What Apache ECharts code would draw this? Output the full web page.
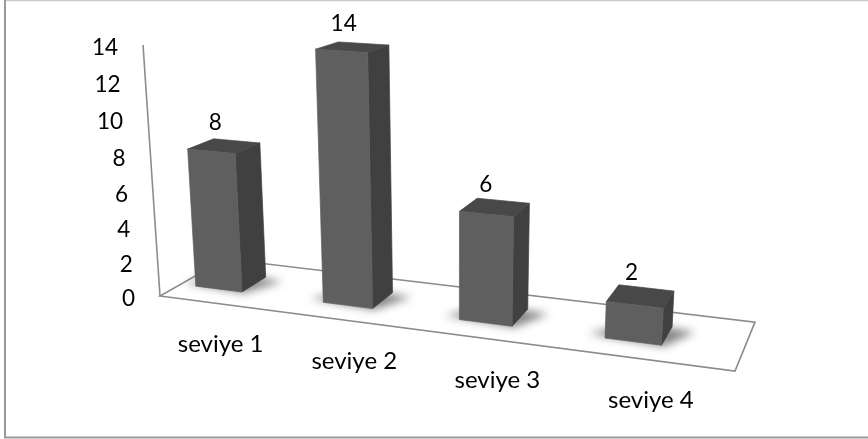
<!DOCTYPE html>
<html>
<head>
<meta charset="utf-8">
<style>html,body{margin:0;padding:0;background:#fff}#chart{width:868px;height:439px}</style>
<script src="https://cdn.jsdelivr.net/npm/echarts@6/dist/echarts.min.js"></script>
</head>
<body>
<div id="chart"></div>
<script>
const categories = ['seviye 1', 'seviye 2', 'seviye 3', 'seviye 4'];
const values = [8, 14, 6, 2];
const yTicks = [0, 2, 4, 6, 8, 10, 12, 14];

// Perspective camera: rows of a 3x4 matrix taking (u, v, h, 1) to homogeneous
// screen space. u runs along the categories, v into the floor, h up the wall.
const CAMERA = [
  [479.8, 85.2, -24.7, 160],
  [27.0, -13.7, -253.4, 296],
  [-0.1295, 0.0898, -0.054, 1]
];
const DIGIT_FONT = '22.5px Lato, Carlito, sans-serif';
const WORD_FONT = '24px Lato, Carlito, sans-serif';
const BAR_FRONT = 0.3, BAR_BACK = 0.69;
const BAR_RATIO = 0.37, BAR_SHIFT = -0.048;

function project(u, v, h) {
  const p = CAMERA.map(r => r[0] * u + r[1] * v + r[2] * h + r[3]);
  return [p[0] / p[2], p[1] / p[2]];
}
// A stroke in the fill colour closes the antialiasing seams between faces.
function quad(points, fill) {
  return { type: 'polygon', shape: { points }, style: { fill, stroke: fill, lineWidth: 0.7 }, silent: true };
}
// Converts a data pair to the unit cube via the hidden grid's scales.
function toUnit(params, api, cat, val) {
  const c = api.coord([cat, val]);
  const g = params.coordSys;
  return [(c[0] - g.x) / g.width, (g.y + g.height - c[1]) / g.height];
}

function renderFloor(params, api) {
  const c = [project(0, 0, 0), project(1, 0, 0), project(1, 1, 0), project(0, 1, 0)];
  const lineStyle = { fill: null, stroke: '#8c8c8c', lineWidth: 1.6 };
  return {
    type: 'group',
    children: [
      { type: 'polygon', shape: { points: c }, style: lineStyle },
      { type: 'line', shape: { x1: c[0][0], y1: c[0][1], x2: project(0, 0, 1)[0], y2: project(0, 0, 1)[1] }, style: lineStyle }
    ]
  };
}

function renderTick(params, api) {
  const val = api.value(0);
  const h = toUnit(params, api, 0, val)[1];
  const p = project(0, 0, h);
  return {
    type: 'text',
    style: { x: p[0] - 25, y: p[1] + 2.5, text: String(val), fill: '#000', font: DIGIT_FONT, align: 'right', verticalAlign: 'middle' }
  };
}

function renderBar(params, api) {
  const cat = api.value(0);
  const val = api.value(1);
  const centre = toUnit(params, api, cat, val);
  const half = api.size([1, 0])[0] / params.coordSys.width * BAR_RATIO / 2;
  const u0 = centre[0] + BAR_SHIFT - half;
  const u1 = centre[0] + BAR_SHIFT + half;
  const h = centre[1];
  const v0 = BAR_FRONT, v1 = BAR_BACK;
  const vMid = (v0 + v1) / 2;

  // The shape sits off the canvas so only its blurred shadow lands on the floor.
  const away = 3000;
  const shadowPts = [
    project(u0 - 0.03, v0 + 0.05, 0), project(u1 + 0.005, v0 - 0.02, 0),
    project(u1 + 0.04, v1 - 0.05, 0), project(u0 + 0.03, v1, 0)
  ].map(p => [p[0] - away, p[1]]);

  const top = project((u0 + u1) / 2, vMid, h);
  const foot = project(centre[0], 0, 0);
  return {
    type: 'group',
    children: [
      {
        type: 'polygon', shape: { points: shadowPts }, silent: true,
        style: { fill: '#000', shadowColor: 'rgba(60,60,60,0.62)', shadowBlur: 8, shadowOffsetX: away }
      },
      quad([project(u1, v0, 0), project(u1, v1, 0), project(u1, v1, h), project(u1, v0, h)], '#404040'),
      quad([project(u0, v0, h), project(u1, v0, h), project(u1, v1, h), project(u0, v1, h)], '#484848'),
      quad([project(u0, v0, 0), project(u1, v0, 0), project(u1, v0, h), project(u0, v0, h)], '#5f5f5f'),
      {
        type: 'text',
        style: { x: top[0] - 9, y: top[1] - 23, text: String(val), fill: '#000', font: DIGIT_FONT, align: 'center', verticalAlign: 'middle' }
      },
      {
        type: 'text',
        style: { x: foot[0] - 3, y: foot[1] + 40, text: categories[cat], fill: '#000', font: WORD_FONT, align: 'center', verticalAlign: 'middle' }
      }
    ]
  };
}

const chart = echarts.init(document.getElementById('chart'), null, { renderer: 'canvas' });
chart.setOption({
  animation: false,
  backgroundColor: '#fff',
  tooltip: { show: false },
  // The plotting grid is only a source of scales; marks go through the camera.
  grid: { left: 0, top: 0, width: 800, height: 400, show: false },
  xAxis: { type: 'category', data: categories, show: false },
  yAxis: { type: 'value', min: 0, max: 14, interval: 2, show: false },
  graphic: [
    // Outer chart border: open on the right-hand side.
    { type: 'line', shape: { x1: 5, y1: 0.5, x2: 868, y2: 0.5 }, style: { stroke: '#cccccc', lineWidth: 1.5 }, silent: true },
    { type: 'line', shape: { x1: 5, y1: 0, x2: 5, y2: 437.5 }, style: { stroke: '#999999', lineWidth: 2 }, silent: true },
    { type: 'line', shape: { x1: 4, y1: 437.5, x2: 868, y2: 437.5 }, style: { stroke: '#999999', lineWidth: 2 }, silent: true }
  ],
  series: [
    { type: 'custom', name: 'floor', coordinateSystem: 'cartesian2d', clip: false, silent: true, data: [[0, 0]], renderItem: renderFloor, z: 1 },
    { type: 'custom', name: 'ticks', coordinateSystem: 'cartesian2d', clip: false, silent: true, data: yTicks.map(t => [t]), encode: { y: 0 }, renderItem: renderTick, z: 2 },
    { type: 'custom', name: 'bars', coordinateSystem: 'cartesian2d', clip: false, silent: true, data: values.map((v, i) => [i, v]), encode: { x: 0, y: 1 }, renderItem: renderBar, z: 3 }
  ]
});
</script>
</body>
</html>
